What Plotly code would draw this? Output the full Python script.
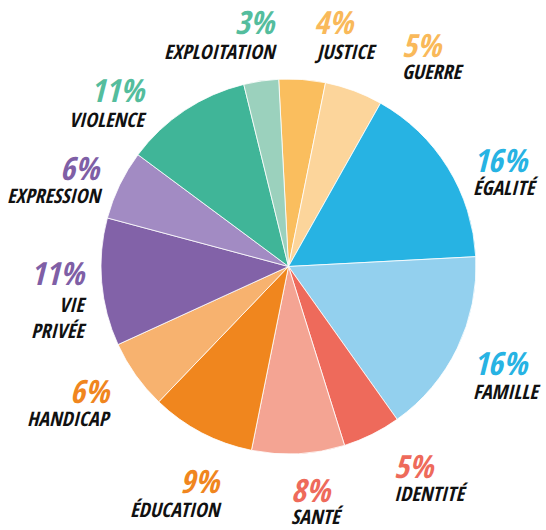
import plotly.graph_objects as go

categories = ["JUSTICE", "GUERRE", "ÉGALITÉ", "FAMILLE", "IDENTITÉ", "SANTÉ",
              "ÉDUCATION", "HANDICAP", "VIE<br>PRIVÉE", "EXPRESSION", "VIOLENCE", "EXPLOITATION"]
values = [4, 5, 16, 16, 5, 8, 9, 6, 11, 6, 11, 3]
slice_colors = ["#FABE5E", "#FCD59B", "#27B3E3", "#93D0EE", "#EE6A5B", "#F4A493",
                "#F0861E", "#F7B26F", "#8262A8", "#A28BC3", "#40B598", "#9BD1BD"]
label_colors = ["#F9B95A", "#F9B95A", "#27B3E3", "#27B3E3", "#EE6A5B", "#EE6A5B",
                "#F0861E", "#F0861E", "#7F5FA6", "#7F5FA6", "#54BD9D", "#54BD9D"]

W, H = 546, 530
# label layout in pixels: (anchor x, pct y, name y, xanchor)
label_pos = [
    (312, 22, 52, "left"),
    (400, 45, 72, "left"),
    (471, 160, 188, "left"),
    (471, 362, 391, "left"),
    (392, 465, 493, "left"),
    (289, 489, 516, "left"),
    (224, 480, 509, "right"),
    (114, 390, 418, "right"),
    (89, 272, 317, "right"),
    (104, 167, 195, "right"),
    (149, 90, 120, "right"),
    (279, 22, 52, "right"),
]

cx, cy, r = 288.5, 266.5, 187.5
fig = go.Figure(go.Pie(
    labels=[c.replace("<br>", " ") for c in categories],
    values=values,
    sort=False,
    direction="clockwise",
    rotation=-3,
    marker=dict(colors=slice_colors, line=dict(color="white", width=0.8)),
    textinfo="none",
    hoverinfo="label+percent",
    showlegend=False,
    domain=dict(x=[(cx - r) / W, (cx + r) / W], y=[(H - cy - r) / H, (H - cy + r) / H]),
))

font_family = "Open Sans Condensed, Roboto Condensed, sans-serif"
annotations = []
for cat, v, col, (px, py_pct, py_name, xa) in zip(categories, values, label_colors, label_pos):
    annotations.append(dict(
        x=px / W, y=1 - py_pct / H, xref="paper", yref="paper",
        text=f"<i>{v}%</i>", showarrow=False, xanchor=xa, yanchor="middle",
        font=dict(family=font_family, size=32, color=col),
    ))
    annotations.append(dict(
        x=px / W, y=1 - py_name / H, xref="paper", yref="paper",
        text=f"<b><i>{cat}</i></b>", showarrow=False, xanchor=xa, yanchor="middle",
        align=xa, font=dict(family=font_family, size=20, color="#111111"),
    ))

fig.update_layout(
    width=W, height=H,
    margin=dict(l=0, r=0, t=0, b=0),
    paper_bgcolor="white",
    plot_bgcolor="white",
    annotations=annotations,
)

fig.write_html("out.html", config={"displayModeBar": False},
               post_script="document.body.style.margin='0px';")
